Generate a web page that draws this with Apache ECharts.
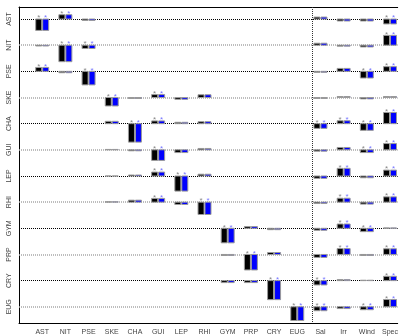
<!DOCTYPE html>
<html>
<head>
<meta charset="utf-8">
<script src="https://cdn.jsdelivr.net/npm/echarts@6/dist/echarts.min.js"></script>
<style>html,body{margin:0;padding:0;background:#fff}#main{width:401px;height:336px}</style>
</head>
<body>
<div id="main"></div>
<script>
var rowNames = ['AST', 'NIT', 'PSE', 'SKE', 'CHA', 'GUI', 'LEP', 'RHI', 'GYM', 'PRP', 'CRY', 'EUG'];
var colNames = rowNames.concat(['Sal', 'Irr', 'Wind', 'Spec']);
var N = null;

// effect sizes, one line per row (null = not estimated)
var effBlack = [
    [-0.58, 0.22, -0.07, N, N, N, N, N, N, N, N, N, 0.10, -0.10, -0.10, -0.25],
    [-0.04, -0.84, -0.17, N, N, N, N, N, N, N, N, N, 0.10, -0.05, -0.09, 0.50],
    [0.20, -0.07, -0.69, N, N, N, N, N, N, N, N, N, -0.05, 0.15, -0.34, 0.24],
    [N, N, N, -0.43, -0.05, 0.15, -0.09, 0.14, N, N, N, N, -0.05, 0.05, -0.07, 0.05],
    [N, N, N, 0.12, -0.94, 0.14, 0.07, 0.10, N, N, N, N, -0.24, 0.15, -0.34, 0.57],
    [N, N, N, 0.02, -0.05, -0.54, -0.14, 0.07, N, N, N, N, -0.07, 0.12, -0.14, 0.32],
    [N, N, N, 0, 0.05, 0.20, -0.77, 0.09, N, N, N, N, -0.12, 0.39, -0.09, 0.30],
    [N, N, N, 0.02, 0.10, 0.19, -0.12, -0.63, N, N, N, N, -0.07, 0.20, -0.10, 0.27],
    [N, N, N, N, N, N, N, N, -0.74, 0.09, -0.07, N, -0.10, 0.22, -0.17, 0.02],
    [N, N, N, N, N, N, N, N, -0.05, -0.79, 0.10, N, -0.15, 0.30, -0.05, 0.29],
    [N, N, N, N, N, N, N, N, -0.10, -0.10, -0.97, N, -0.22, 0.05, 0.02, 0.22],
    [N, N, N, N, N, N, N, N, N, N, N, -0.70, -0.20, -0.09, -0.15, 0.37]
];
var effBlue = [
    [-0.58, 0.22, -0.07, N, N, N, N, N, N, N, N, N, 0.10, -0.10, -0.10, -0.25],
    [-0.04, -0.84, -0.17, N, N, N, N, N, N, N, N, N, 0.10, -0.05, -0.09, 0.50],
    [0.20, -0.07, -0.69, N, N, N, N, N, N, N, N, N, -0.05, 0.15, -0.34, 0.24],
    [N, N, N, -0.43, -0.05, 0.15, -0.09, 0.14, N, N, N, N, -0.05, 0.05, -0.07, 0.05],
    [N, N, N, 0.12, -0.94, 0.14, 0.07, 0.10, N, N, N, N, -0.24, 0.15, -0.34, 0.57],
    [N, N, N, 0.02, -0.05, -0.54, -0.14, 0.07, N, N, N, N, -0.07, 0.12, -0.14, 0.32],
    [N, N, N, 0, 0.05, 0.20, -0.77, 0.09, N, N, N, N, -0.12, 0.39, -0.09, 0.30],
    [N, N, N, 0.02, 0.10, 0.19, -0.12, -0.63, N, N, N, N, -0.07, 0.20, -0.10, 0.27],
    [N, N, N, N, N, N, N, N, -0.74, 0.09, -0.07, N, -0.10, 0.22, -0.17, 0.02],
    [N, N, N, N, N, N, N, N, -0.05, -0.79, 0.10, N, -0.15, 0.30, -0.05, 0.29],
    [N, N, N, N, N, N, N, N, -0.10, -0.10, -0.97, N, -0.22, 0.05, 0.02, 0.22],
    [N, N, N, N, N, N, N, N, N, N, N, -0.70, -0.20, -0.09, -0.15, 0.37]
];
// 1 = significant (asterisk)
var sig = [
    [1, 1, 0, 0, 0, 0, 0, 0, 0, 0, 0, 0, 0, 0, 0, 1],
    [0, 1, 1, 0, 0, 0, 0, 0, 0, 0, 0, 0, 0, 0, 0, 1],
    [1, 0, 1, 0, 0, 0, 0, 0, 0, 0, 0, 0, 0, 0, 1, 1],
    [0, 0, 0, 1, 0, 1, 0, 0, 0, 0, 0, 0, 0, 0, 0, 0],
    [0, 0, 0, 0, 1, 1, 0, 0, 0, 0, 0, 0, 1, 1, 1, 1],
    [0, 0, 0, 0, 0, 1, 0, 0, 0, 0, 0, 0, 0, 0, 1, 1],
    [0, 0, 0, 0, 0, 1, 1, 0, 0, 0, 0, 0, 0, 1, 0, 1],
    [0, 0, 0, 0, 0, 1, 0, 1, 0, 0, 0, 0, 0, 1, 0, 1],
    [0, 0, 0, 0, 0, 0, 0, 0, 1, 0, 0, 0, 0, 1, 1, 0],
    [0, 0, 0, 0, 0, 0, 0, 0, 0, 1, 0, 0, 0, 1, 0, 1],
    [0, 0, 0, 0, 0, 0, 0, 0, 0, 0, 1, 0, 1, 0, 0, 1],
    [0, 0, 0, 0, 0, 0, 0, 0, 0, 0, 0, 1, 1, 0, 1, 1]
];

var SCALE = 0.75; // row units per unit of effect
var BW = 0.26;

function toData(eff) {
    var out = [];
    eff.forEach(function (row, r) {
        row.forEach(function (v, c) {
            if (v !== null) out.push([c + 1, r, v, sig[r][c]]);
        });
    });
    return out;
}

function barRenderer(off, fill, starColor) {
    return function (params, api) {
        var k = api.value(0), r = api.value(1), v = api.value(2), s = api.value(3);
        var base = api.coord([k + off, r]);
        var tip = api.coord([k + off, r - v * SCALE]);
        var w = api.size([BW, 0])[0];
        var top = Math.min(base[1], tip[1]);
        var kids = [{
            type: 'rect',
            shape: {x: base[0] - w / 2, y: top, width: w, height: Math.abs(tip[1] - base[1])},
            style: {fill: fill, stroke: '#9a9a9a', lineWidth: 1}
        }];
        if (s) {
            kids.push({
                type: 'text',
                style: {text: '*', x: base[0], y: top + 3, align: 'center', verticalAlign: 'bottom',
                    fill: starColor, fontSize: 8, fontFamily: 'Liberation Sans'}
            });
        }
        return {type: 'group', children: kids};
    };
}

var rowLines = rowNames.map(function (n, i) {
    return {yAxis: i, lineStyle: {color: i % 2 ? '#a8a8a8' : '#000', type: [1, 1], width: i % 2 ? 1.5 : 1}};
});
rowLines.push({xAxis: 12.65, lineStyle: {color: '#333', type: [1, 1], width: 1}});

var myChart = echarts.init(document.getElementById('main'));
option = {
    animation: false,
    grid: {left: 19, right: 0, top: 7, bottom: 7},
    xAxis: [{
        type: 'value', min: 0, max: 16.33, position: 'bottom',
        axisLine: {show: true, onZero: false, lineStyle: {color: '#000', width: 1}},
        axisTick: {show: false}, splitLine: {show: false},
        axisLabel: {
            customValues: [1, 2, 3, 4, 5, 6, 7, 8, 9, 10, 11, 12, 13, 14, 15, 16],
            formatter: function (v) { return colNames[v - 1] || ''; },
            fontSize: 7, color: '#444', margin: 6, fontFamily: 'Liberation Sans'
        }
    }, {
        type: 'value', min: 0, max: 16.33, position: 'top',
        axisLine: {show: true, onZero: false, lineStyle: {color: '#000', width: 1}},
        axisTick: {show: false}, splitLine: {show: false}, axisLabel: {show: false}
    }],
    yAxis: {
        type: 'value', inverse: true, min: -0.46, max: 11.62,
        axisLine: {show: true, onZero: false, lineStyle: {color: '#000', width: 1}},
        axisTick: {show: false}, splitLine: {show: false},
        axisLabel: {
            customValues: [0, 1, 2, 3, 4, 5, 6, 7, 8, 9, 10, 11],
            formatter: function (v) { return rowNames[v] || ''; },
            rotate: 90, fontSize: 7, color: '#444', margin: 6, fontFamily: 'Liberation Sans'
        }
    },
    series: [
        {
            type: 'custom', name: 'black', data: toData(effBlack), encode: {x: 0, y: 1},
            renderItem: barRenderer(-0.15, '#000', '#888'), clip: false, z: 3,
            markLine: {silent: true, symbol: 'none', label: {show: false}, data: rowLines, z: 1}
        },
        {
            type: 'custom', name: 'blue', data: toData(effBlue), encode: {x: 0, y: 1},
            renderItem: barRenderer(0.15, '#0000ff', '#7777ff'), clip: false, z: 3
        }
    ]
};
myChart.setOption(option);
</script>
</body>
</html>
